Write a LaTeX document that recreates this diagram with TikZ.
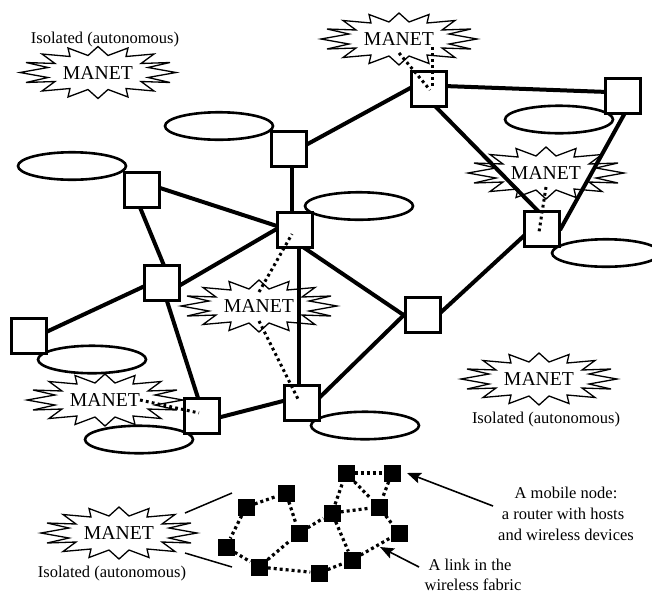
\documentclass[tikz,border=0pt]{standalone}
\usepackage{fontspec}
\setmainfont{Liberation Serif}
\usetikzlibrary{shapes.geometric,arrows.meta,calc}
\pgfdeclarelayer{burstlayer}
\pgfdeclarelayer{linklayer}
\pgfsetlayers{burstlayer,linklayer,main}
\tikzset{
  router/.style={draw=black,fill=white,line width=3pt,rectangle,minimum size=34.5pt,inner sep=0pt},
  lan/.style={draw=black,fill=white,line width=2.6pt,ellipse,minimum width=108pt,minimum height=27.5pt,inner sep=0pt},
  link/.style={line width=4pt,line cap=butt},
  airlink/.style={line width=3pt,dash pattern=on 2.8pt off 3.2pt},
  fablink/.style={line width=3.2pt,dash pattern=on 3pt off 3pt},
  mobile/.style={fill=black,rectangle,minimum size=17pt,inner sep=0pt},
  burstline/.style={draw=black,line width=1.3pt,line join=miter},
  manettext/.style={font=\fontsize{19.7}{22}\selectfont,inner sep=0pt},
  label/.style={font=\fontsize{16.5}{19}\selectfont,inner sep=0pt},
  thinline/.style={line width=1.5pt},
  pointer/.style={line width=1.6pt,-{Stealth[length=14pt,width=11pt,inset=2.5pt]}}
}
\newcommand{\burstat}[3]{%
  \begin{pgfonlayer}{burstlayer}
  \node[manettext] (#1) at (#2,#3) {MANET};
  \draw[burstline,shift={(#1.center)}]
    (0,-26)--(10,-17)--(30,-24.5)--(28,-16)--(56,-18.5)--(43,-9)--(72,-10)--(50,-5)--(78,0)
    --(50,5)--(72,10)--(43,9)--(56,18.5)--(28,16)--(30,24.5)--(10,17)--(0,26)
    --(-10,17)--(-30,24.5)--(-28,16)--(-56,18.5)--(-43,9)--(-72,10)--(-50,5)--(-78,0)
    --(-50,-5)--(-72,-10)--(-43,-9)--(-56,-18.5)--(-28,-16)--(-30,-24.5)--(-10,-17)--cycle;
  \end{pgfonlayer}}
\begin{document}
\begin{tikzpicture}[x=1pt,y=-1pt]
\useasboundingbox (0,0) rectangle (652,592);
% MANET clouds
\burstat{S1}{98}{72.5}
\burstat{S2}{399}{39}
\burstat{S3}{546}{173}
\burstat{S4}{259}{306}
\burstat{S5}{105}{400}
\burstat{S6}{539}{379}
\burstat{S7}{119}{533}
% hosts
\node[lan] (E1) at (219,126) {};
\node[lan] (E2) at (72,166) {};
\node[lan] (E3) at (359,206) {};
\node[lan] (E4) at (559,119.5) {};
\node[lan] (E5) at (606,253) {};
\node[lan] (E6) at (92,359.5) {};
\node[lan] (E7) at (139,439.5) {};
\node[lan] (E8) at (365,425.5) {};
% routers
\node[router] (R1) at (289,149) {};
\node[router] (R2) at (142,190) {};
\node[router] (R3) at (295,230) {};
\node[router] (R4) at (162,283) {};
\node[router] (R5) at (29,336) {};
\node[router] (R6) at (202,416) {};
\node[router] (R7) at (302,403) {};
\node[router] (R8) at (429,89) {};
\node[router] (R9) at (623,96) {};
\node[router] (R10) at (542,229) {};
\node[router] (R11) at (423,315) {};
% wired links
\begin{pgfonlayer}{linklayer}
\draw[link] ($(R1)+(15,-3)$) -- ($(R8)+(-15,-3)$);
\draw[link] ($(R1)+(3,15)$) -- ($(R3)+(-3,-15)$);
\draw[link] ($(R2)+(15,-3)$) -- ($(R3)+(-15,-3)$);
\draw[link] ($(R2)+(-3,15)$) -- ($(R4)+(3,-15)$);
\draw[link] ($(R4)+(15,4)$) -- ($(R3)+(-15,-3)$);
\draw[link] ($(R5)+(15,-3)$) -- ($(R4)+(-15,2)$);
\draw[link] ($(R4)+(4,15)$) -- ($(R6)+(-3,-15)$);
\draw[link] ($(R3)+(4,15)$) -- ($(R7)+(-3,-15)$);
\draw[link] ($(R6)+(15,2)$) -- ($(R7)+(-15,-3)$);
\draw[link] ($(R3)+(5,15)$) -- ($(R11)+(-15,3)$);
\draw[link] ($(R10)+(-15,4)$) -- ($(R11)+(15,0)$);
\draw[link] ($(R7)+(15,-3)$) -- ($(R11)+(-15,-4)$);
\draw[link] ($(R8)+(15,-3)$) -- ($(R9)+(-15,-4)$);
\draw[link] ($(R8)+(4,15)$) -- ($(R10)+(-1,-15)$);
\draw[link] ($(R9)+(3,15)$) -- ($(R10)+(18,1)$);
\end{pgfonlayer}
% wireless attachment links
\draw[airlink] ($(S4)+(0,-14)$) -- ($(R3)+(-3,4)$);
\draw[airlink] ($(S4)+(0,15)$) -- ($(R7)+(-4,-4)$);
\draw[airlink] ($(S2)+(0,14)$) -- ($(R8)+(1,1)$);
\draw[airlink] ($(S2)+(33,8)$) -- ($(R8)+(3,-2)$);
\draw[airlink] ($(S3)+(0,14)$) -- ($(R10)+(-3,3)$);
\draw[airlink] ($(S5)+(35,0)$) -- ($(R6)+(-3,-3)$);
% fabric
\node[mobile] (F1) at (246,507) {};
\node[mobile] (F2) at (286,493) {};
\node[mobile] (F3) at (226,547) {};
\node[mobile] (F4) at (259,567) {};
\node[mobile] (F5) at (299,533) {};
\node[mobile] (F6) at (332,513) {};
\node[mobile] (F7) at (346,473) {};
\node[mobile] (F8) at (392,473) {};
\node[mobile] (F9) at (379,507) {};
\node[mobile] (F10) at (399,533) {};
\node[mobile] (F11) at (352,560) {};
\node[mobile] (F12) at (319,573) {};
\begin{pgfonlayer}{linklayer}
\foreach \a/\b in {F1/F2,F1/F3,F3/F4,F4/F5,F2/F5,F5/F6,F6/F7,F6/F9,F7/F8,F7/F9,F8/F9,F9/F10,F6/F11,F4/F12,F12/F11,F11/F10}
  \draw[fablink] (\a) -- (\b);
\end{pgfonlayer}
% zoom lines
\coordinate (Z1) at (185,513);
\coordinate (Z2) at (232,493);
\coordinate (Z3) at (185,553);
\coordinate (Z4) at (232,567);
\draw[thinline] (Z1) -- (Z2);
\draw[thinline] (Z3) -- (Z4);
% labels
\node[label] (T1) at (105,39.5) {Isolated (autonomous)};
\node[label] (T2) at (546,419.5) {Isolated (autonomous)};
\node[label] (T3) at (112,573.5) {Isolated (autonomous)};
\node[label] (T4) at (566,492.5) {A mobile node:};
\node[label] (T5) at (563,513.5) {a router with hosts};
\node[label] (T6) at (566,535) {and wireless devices};
\node[label] (T7) at (470,565) {A link in the};
\node[label] (T8) at (473,584.5) {wireless fabric};
% pointers
\coordinate (P1) at (493,506);
\coordinate (P2) at (407,473);
\coordinate (P3) at (419,567);
\coordinate (P4) at (380,547);
\draw[pointer] (P1) -- (P2);
\draw[pointer] (P3) -- (P4);
\end{tikzpicture}
\end{document}
